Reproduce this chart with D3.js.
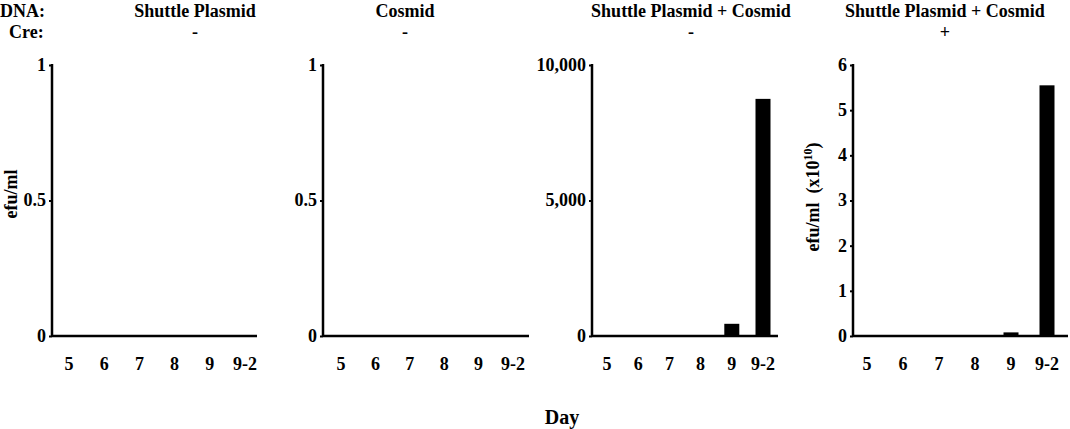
<!DOCTYPE html>
<html><head><meta charset="utf-8">
<script src="https://cdn.jsdelivr.net/npm/d3@7"></script>
<style>
body{margin:0;background:#fff;}
text{font-family:"Liberation Serif","Times New Roman",serif;font-weight:bold;fill:#000;}
</style></head>
<body><svg id="chart" width="1070" height="429"></svg>
<script>
const days = ["5","6","7","8","9","9-2"];
const dnaLabels = ["Shuttle Plasmid","Cosmid","Shuttle Plasmid + Cosmid","Shuttle Plasmid + Cosmid"];
const creLabels = ["-","-","-","+"];
const shuttleValues = [0,0,0,0,0,0];
const cosmidValues = [0,0,0,0,0,0];
const comboNoCreValues = [0,0,0,0,450,8750];
const comboCreValues = [0,0,0,0,0.08,5.55];
const yMaxes = [1,1,10000,6];
const yTicks1 = [0,0.5,1];
const yTicks2 = [0,0.5,1];
const yTicks3 = [0,5000,10000];
const yTicks4 = [0,1,2,3,4,5,6];

const panels = [
  {vals:shuttleValues, ticks:yTicks1, fmt:d=>String(d), ax:52, end:257, first:69, last:245, title:195},
  {vals:cosmidValues, ticks:yTicks2, fmt:d=>String(d), ax:323, end:529, first:341, last:513, title:405},
  {vals:comboNoCreValues, ticks:yTicks3, fmt:d3.format(","), ax:592, end:778, first:607, last:763, title:691},
  {vals:comboCreValues, ticks:yTicks4, fmt:d=>String(d), ax:853, end:1068, first:867, last:1047, title:945}
];

const svg = d3.select("#chart");
const plotTop = 65, plotBottom = 336;
const fs = 18;

svg.append("text").attr("x",0).attr("y",17).attr("font-size",fs).text("DNA:");
svg.append("text").attr("x",9).attr("y",38).attr("font-size",fs).text("Cre:");

panels.forEach((p,i)=>{
  const g = svg.append("g");
  const y = d3.scaleLinear().domain([0,yMaxes[i]]).range([plotBottom,plotTop]);
  const x = d3.scalePoint().domain(days).range([p.first,p.last]);
  g.append("text").attr("x",p.title).attr("y",17).attr("text-anchor","middle").attr("font-size",fs).text(dnaLabels[i]);
  g.append("text").attr("x",p.title).attr("y",38).attr("text-anchor","middle").attr("font-size",fs).text(creLabels[i]);
  g.selectAll("rect").data(p.vals).join("rect")
    .attr("x",(d,j)=>x(days[j])-7.5).attr("width",15)
    .attr("y",d=>y(d)).attr("height",d=>plotBottom-y(d)).attr("fill","#000");
  const ya = g.append("g").attr("transform",`translate(${p.ax},0)`)
    .call(d3.axisLeft(y).tickValues(p.ticks).tickFormat(p.fmt).tickSize(3).tickPadding(3));
  ya.select(".domain").attr("stroke","#000").attr("stroke-width",2.5).attr("d",`M0,${plotTop-1}V${plotBottom}`);
  ya.selectAll(".tick line").attr("stroke-width",2);
  ya.selectAll(".tick text").attr("font-size",fs).attr("font-family","Liberation Serif").attr("font-weight","bold").attr("dy","0.3em");
  g.append("line").attr("x1",p.ax).attr("x2",p.end).attr("y1",plotBottom).attr("y2",plotBottom)
    .attr("stroke","#000").attr("stroke-width",2.5);
  g.selectAll("text.xl").data(days).join("text").attr("class","xl")
    .attr("x",d=>x(d)).attr("y",370).attr("text-anchor","middle").attr("font-size",fs).text(d=>d);
});

svg.append("text").attr("transform","translate(17,194) rotate(-90)").attr("text-anchor","middle").attr("font-size",fs).text("efu/ml");
const yl = svg.append("text").attr("transform","translate(819,197) rotate(-90)").attr("text-anchor","middle").attr("font-size",fs);
yl.append("tspan").text("efu/ml\u00A0\u00A0(x10");
yl.append("tspan").attr("dy",-7).attr("font-size",12).text("10");
yl.append("tspan").attr("dy",7).text(")");
svg.append("text").attr("x",562).attr("y",424).attr("text-anchor","middle").attr("font-size",20).text("Day");
</script></body></html>
